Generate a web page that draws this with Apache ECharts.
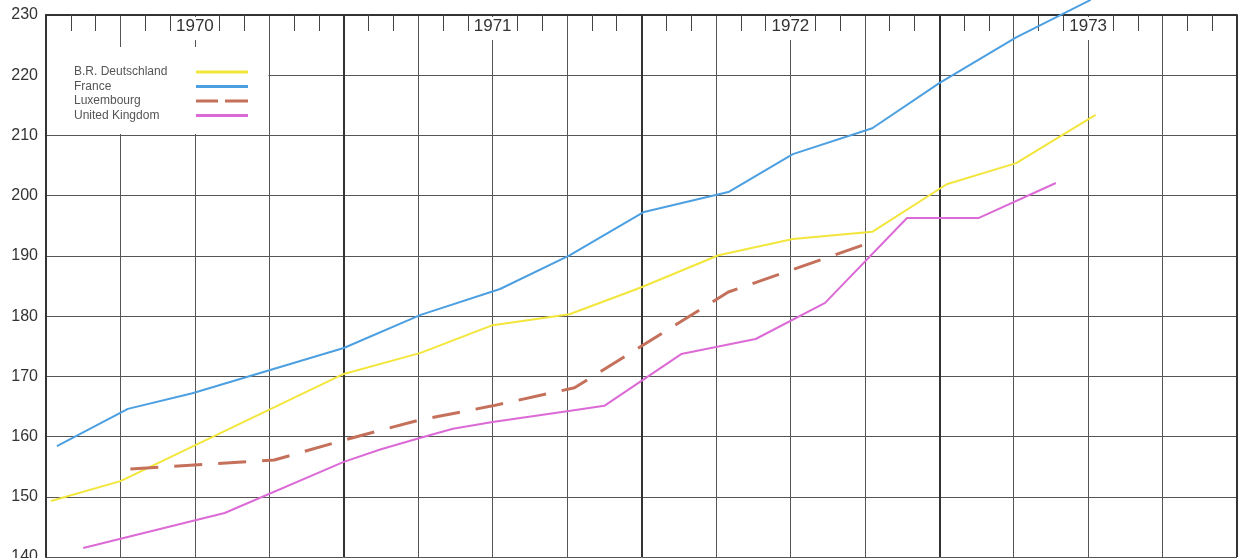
<!DOCTYPE html>
<html><head><meta charset="utf-8">
<script src="https://cdn.jsdelivr.net/npm/echarts@6/dist/echarts.min.js"></script>
<style>html,body{margin:0;padding:0;background:#fff}#c{width:1244px;height:558px}</style>
</head><body><div id="c"></div>
<script>
// x = months since January 1970, y = index value
const seriesNames = ['B.R. Deutschland', 'France', 'Luxembourg', 'United Kingdom'];
const yearLabels = ['1970', '1971', '1972', '1973'];
const deutschland = [[0.2,149.3],[3.0,152.6],[12.0,170.4],[15.1,173.9],[18.0,178.5],[21.1,180.3],[24.0,184.8],[27.1,190.1],[30.1,192.8],[33.3,194.0],[36.3,201.9],[39.1,205.4],[42.3,213.4]];
const france = [[0.44,158.4],[3.3,164.6],[5.9,167.2],[9.0,171.0],[12.0,174.7],[15.1,180.2],[18.3,184.5],[21.1,190.1],[24.1,197.3],[27.5,200.6],[30.1,206.9],[33.3,211.2],[36.0,218.7],[39.1,226.3],[42.1,232.5]];
const luxembourg = [[3.4,154.6],[9.2,156.1],[12.0,159.4],[15.0,162.7],[18.0,165.1],[21.3,168.1],[27.5,184.0],[33.2,192.2]];
const unitedKingdom = [[1.5,141.5],[7.2,147.3],[12.0,155.8],[13.5,157.9],[15.1,159.8],[16.4,161.3],[18.0,162.4],[21.0,164.2],[22.5,165.1],[25.6,173.7],[28.6,176.2],[31.4,182.2],[34.7,196.3],[37.6,196.3],[40.7,202.1]];
const seriesData = [deutschland, france, luxembourg, unitedKingdom];
const colors = ['#f2e63c', '#4c9fe0', '#c4705a', '#dc6ad6'];

const FONT = '"Liberation Sans", Arial, Helvetica, sans-serif';
const chart = echarts.init(document.getElementById('c'), null, {renderer: 'canvas'});
const solidIcon = 'path://M0,0H52V3H0Z';
const dashIcon = 'path://M0,0H22V3H0Z M29,0H52V3H29Z';

chart.setOption({
  backgroundColor: '#ffffff',
  animation: false,
  grid: {left: 46, right: 7, top: 15, bottom: 1, containLabel: false, outerBoundsMode: 'none'},
  xAxis: [{
    type: 'value', position: 'top', min: 0, max: 48, interval: 3,
    axisLine: {show: true, lineStyle: {color: '#333', width: 2}},
    axisTick: {show: false, inside: true},
    minorTick: {show: true, splitNumber: 3, length: 16, lineStyle: {color: '#444', width: 1}},
    axisLabel: {
      inside: true, margin: 2,
      formatter: function (v) { return (v % 12 === 6) ? '{y|' + yearLabels[(v - 6) / 12] + '}' : ''; },
      rich: {y: {fontSize: 17, color: '#333', fontFamily: FONT, backgroundColor: '#fff', padding: [1, 1, 5, 1]}}
    },
    splitLine: {show: true, lineStyle: {color: '#555', width: 1}}
  }, {
    type: 'value', position: 'bottom', min: 0, max: 48, interval: 12,
    axisLine: {show: false}, axisTick: {show: false}, axisLabel: {show: false},
    splitLine: {show: true, lineStyle: {color: '#333', width: 2}}
  }],
  yAxis: {
    type: 'value', min: 140, max: 230, interval: 10,
    axisLine: {show: true, lineStyle: {color: '#333', width: 2}},
    axisTick: {show: false},
    axisLabel: {fontSize: 16, color: '#333', margin: 8, fontFamily: FONT},
    splitLine: {show: true, lineStyle: {color: '#555', width: 1}}
  },
  legend: {
    orient: 'vertical', left: 74, top: 65, align: 'right', padding: 0,
    itemWidth: 52, itemHeight: 3, itemGap: 0.5,
    itemStyle: {borderWidth: 0},
    data: seriesNames.map(function (n, i) { return {name: n, icon: i === 2 ? dashIcon : solidIcon}; }),
    formatter: function (n) { return '{t|' + n + '}'; },
    textStyle: {lineHeight: 14, rich: {t: {width: 117, height: 14, align: 'left', fontSize: 12, lineHeight: 14, color: '#555', fontFamily: FONT}}}
  },
  graphic: [{
    type: 'rect', z: 1, silent: true,
    shape: {x: 47, y: 47, width: 221.5, height: 87},
    style: {fill: '#ffffff'}
  }],
  series: seriesNames.map(function (n, i) {
    return {
      name: n, type: 'line', data: seriesData[i], symbol: 'none', clip: false,
      color: colors[i], z: 3,
      lineStyle: {color: colors[i], width: i === 2 ? 3 : 2, type: i === 2 ? [28, 16] : 'solid'}
    };
  })
});
</script></body></html>
